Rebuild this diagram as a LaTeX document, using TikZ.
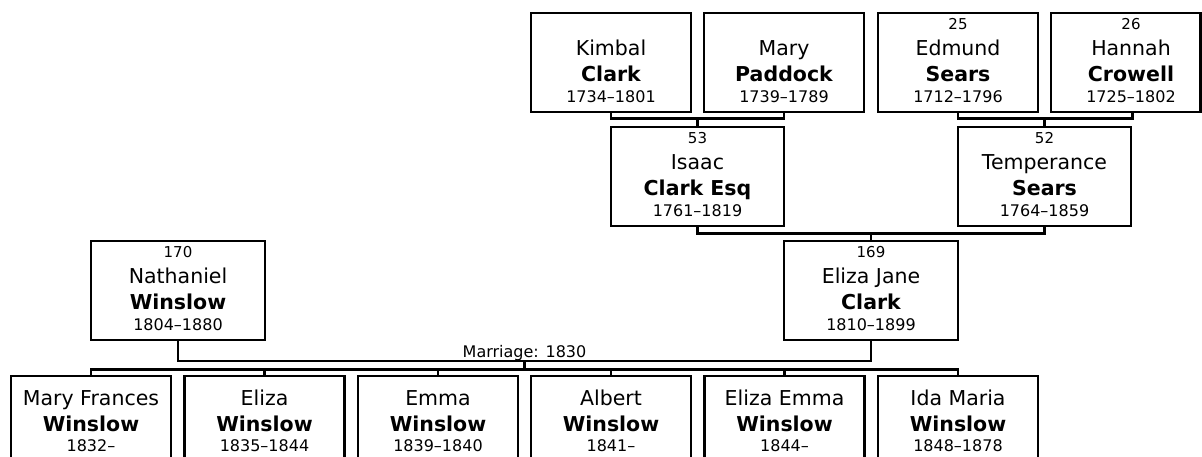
\documentclass[tikz,border=0pt]{standalone}
\usepackage{fontspec}
\setmainfont{DejaVu Sans}
\tikzset{
  pbox/.style={draw, line width=2.7pt, inner sep=0pt, minimum height=99pt},
  conn/.style={draw, line width=2.7pt},
  numtxt/.style={anchor=base, inner sep=0pt, font=\fontsize{15}{18}\selectfont},
  nametxt/.style={anchor=base, inner sep=0pt, font=\fontsize{20.5}{24}\selectfont},
  lasttxt/.style={anchor=base, inner sep=0pt, font=\fontsize{20.5}{24}\selectfont\bfseries},
  yeartxt/.style={anchor=base, inner sep=0pt, font=\fontsize{16}{19}\selectfont}
}
% #1 id, #2 box cx, #3 box width, #4 top, #5 text cx, #6 num, #7 first, #8 last, #9 years
\newcommand{\fperson}[9]{%
  \node[pbox, minimum width=#3pt] (#1) at (#2, #4+49.5) {};
  \if\relax\detokenize{#6}\relax\else\node[numtxt] (#1-num) at (#5, #4+16.5) {#6};\fi
  \node[nametxt] (#1-first) at (#5, #4+42) {#7};
  \node[lasttxt] (#1-last) at (#5, #4+68.5) {#8};
  \node[yeartxt] (#1-years) at (#5, #4+89) {#9};
}
% #1 id, #2 cx, #3 first, #4 years
\newcommand{\fchild}[4]{%
  \node[pbox, minimum width=160pt, minimum height=110pt] (#1) at (#2, 431) {};
  \node[nametxt] (#1-first) at (#2, 405.5) {#3};
  \node[lasttxt] (#1-last) at (#2, 431.5) {Winslow};
  \node[yeartxt] (#1-years) at (#2, 451.5) {#4};
}
\begin{document}
\begin{tikzpicture}[x=1pt, y=-1pt]
\clip (0,0) rectangle (1202,456);
\fill[white] (0,0) rectangle (1202,456);

% top row
\fperson{kimbal}{611}{160}{13}{611}{}{Kimbal}{Clark}{1734–1801}
\fperson{mary}{784}{160}{13}{784}{}{Mary}{Paddock}{1739–1789}
\fperson{edmund}{958}{160}{13}{958}{25}{Edmund}{Sears}{1712–1796}
\fperson{hannah}{1125.75}{149.5}{13}{1131}{26}{Hannah}{Crowell}{1725–1802}

% second row
\fperson{isaac}{697.5}{173}{127}{697.5}{53}{Isaac}{Clark Esq}{1761–1819}
\fperson{temperance}{1044.5}{173}{127}{1044.5}{52}{Temperance}{Sears}{1764–1859}

% third row
\fperson{nathaniel}{178}{174}{241}{178}{170}{Nathaniel}{Winslow}{1804–1880}
\fperson{elizajane}{871}{174}{241}{871}{169}{Eliza Jane}{Clark}{1810–1899}

% children
\fchild{mf}{91}{Mary Frances}{1832–}
\fchild{eliza}{264.5}{Eliza}{1835–1844}
\fchild{emma}{438}{Emma}{1839–1840}
\fchild{albert}{611}{Albert}{1841–}
\fchild{ee}{784.5}{Eliza Emma}{1844–}
\fchild{ida}{958}{Ida Maria}{1848–1878}

% connectors
\coordinate (kmbar) at (697.5,118.5);
\coordinate (esbar) at (1044.5,118.5);
\coordinate (itbar) at (871,233.5);
\coordinate (mdrop) at (524.5,361);
\coordinate (bus) at (524.5,369.5);

\draw[conn] (kimbal.south) |- (kmbar) -| (mary.south);
\draw[conn] (kmbar) -- (isaac.north);
\draw[conn] (edmund.south) |- (esbar) -| (temperance.east |- hannah.south);
\draw[conn] (esbar) -- (temperance.north);
\draw[conn] (isaac.south) |- (itbar) -| (temperance.south);
\draw[conn] (itbar) -- (elizajane.north);

\draw[conn] (nathaniel.south) |- (mdrop) -| (elizajane.south);
\node[yeartxt] (marr) at (524.5,357) {Marriage: 1830};
\draw[conn] (mdrop) -- (bus);
\draw[conn] (mf.north) |- (bus) -| (ida.north);
\foreach \c in {eliza,emma,albert,ee}
  \draw[conn] (\c.north) -- (\c.north |- bus);
\end{tikzpicture}
\end{document}
